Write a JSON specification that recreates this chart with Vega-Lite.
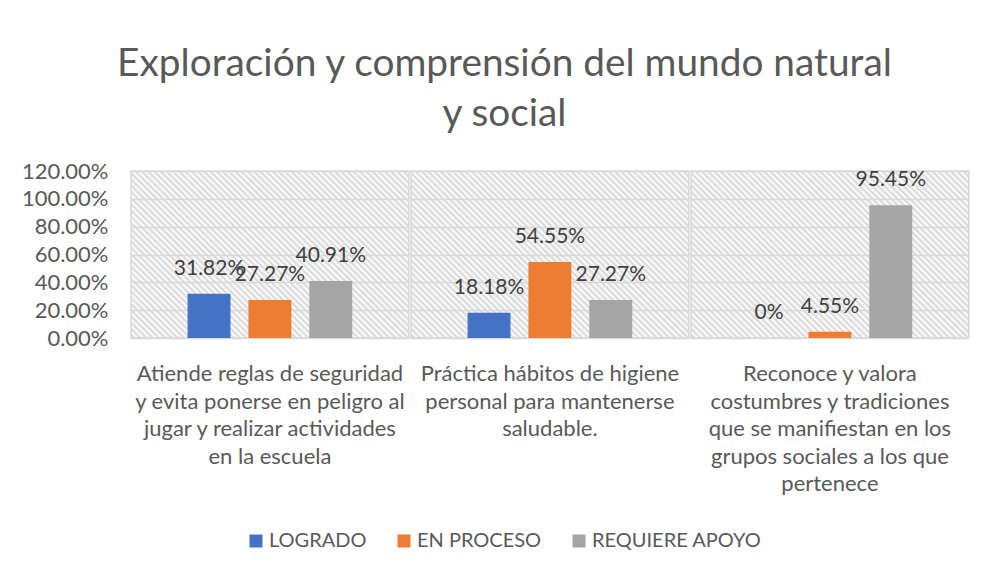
{
  "$schema": "https://vega.github.io/schema/vega-lite/v6.json",
  "padding": {"left": 21, "top": 45, "right": 18, "bottom": 10},
  "background": "white",
  "config": {
    "font": "Lato",
    "view": {
      "stroke": "#d9d9d9",
      "strokeWidth": 1.5,
      "fill": {
        "gradient": "linear",
        "x1": 0, "y1": 1, "x2": 1.1762, "y2": 0.2931,
        "stops": [
          {"offset": 0, "color": "#fff"}, {"offset": 0.007, "color": "#d6d6d6"}, {"offset": 0.014, "color": "#fff"}, {"offset": 0.021, "color": "#d6d6d6"},
          {"offset": 0.028, "color": "#fff"}, {"offset": 0.035, "color": "#d6d6d6"}, {"offset": 0.042, "color": "#fff"}, {"offset": 0.049, "color": "#d6d6d6"},
          {"offset": 0.056, "color": "#fff"}, {"offset": 0.063, "color": "#d6d6d6"}, {"offset": 0.07, "color": "#fff"}, {"offset": 0.077, "color": "#d6d6d6"},
          {"offset": 0.084, "color": "#fff"}, {"offset": 0.091, "color": "#d6d6d6"}, {"offset": 0.098, "color": "#fff"}, {"offset": 0.105, "color": "#d6d6d6"},
          {"offset": 0.112, "color": "#fff"}, {"offset": 0.119, "color": "#d6d6d6"}, {"offset": 0.126, "color": "#fff"}, {"offset": 0.133, "color": "#d6d6d6"},
          {"offset": 0.14, "color": "#fff"}, {"offset": 0.147, "color": "#d6d6d6"}, {"offset": 0.154, "color": "#fff"}, {"offset": 0.161, "color": "#d6d6d6"},
          {"offset": 0.168, "color": "#fff"}, {"offset": 0.175, "color": "#d6d6d6"}, {"offset": 0.182, "color": "#fff"}, {"offset": 0.189, "color": "#d6d6d6"},
          {"offset": 0.196, "color": "#fff"}, {"offset": 0.203, "color": "#d6d6d6"}, {"offset": 0.21, "color": "#fff"}, {"offset": 0.217, "color": "#d6d6d6"},
          {"offset": 0.224, "color": "#fff"}, {"offset": 0.231, "color": "#d6d6d6"}, {"offset": 0.238, "color": "#fff"}, {"offset": 0.245, "color": "#d6d6d6"},
          {"offset": 0.252, "color": "#fff"}, {"offset": 0.259, "color": "#d6d6d6"}, {"offset": 0.266, "color": "#fff"}, {"offset": 0.273, "color": "#d6d6d6"},
          {"offset": 0.28, "color": "#fff"}, {"offset": 0.287, "color": "#d6d6d6"}, {"offset": 0.294, "color": "#fff"}, {"offset": 0.301, "color": "#d6d6d6"},
          {"offset": 0.308, "color": "#fff"}, {"offset": 0.315, "color": "#d6d6d6"}, {"offset": 0.322, "color": "#fff"}, {"offset": 0.329, "color": "#d6d6d6"},
          {"offset": 0.336, "color": "#fff"}, {"offset": 0.343, "color": "#d6d6d6"}, {"offset": 0.35, "color": "#fff"}, {"offset": 0.357, "color": "#d6d6d6"},
          {"offset": 0.364, "color": "#fff"}, {"offset": 0.371, "color": "#d6d6d6"}, {"offset": 0.378, "color": "#fff"}, {"offset": 0.385, "color": "#d6d6d6"},
          {"offset": 0.392, "color": "#fff"}, {"offset": 0.399, "color": "#d6d6d6"}, {"offset": 0.406, "color": "#fff"}, {"offset": 0.413, "color": "#d6d6d6"},
          {"offset": 0.42, "color": "#fff"}, {"offset": 0.427, "color": "#d6d6d6"}, {"offset": 0.434, "color": "#fff"}, {"offset": 0.441, "color": "#d6d6d6"},
          {"offset": 0.448, "color": "#fff"}, {"offset": 0.455, "color": "#d6d6d6"}, {"offset": 0.462, "color": "#fff"}, {"offset": 0.469, "color": "#d6d6d6"},
          {"offset": 0.476, "color": "#fff"}, {"offset": 0.483, "color": "#d6d6d6"}, {"offset": 0.49, "color": "#fff"}, {"offset": 0.497, "color": "#d6d6d6"},
          {"offset": 0.504, "color": "#fff"}, {"offset": 0.511, "color": "#d6d6d6"}, {"offset": 0.518, "color": "#fff"}, {"offset": 0.525, "color": "#d6d6d6"},
          {"offset": 0.532, "color": "#fff"}, {"offset": 0.539, "color": "#d6d6d6"}, {"offset": 0.546, "color": "#fff"}, {"offset": 0.553, "color": "#d6d6d6"},
          {"offset": 0.56, "color": "#fff"}, {"offset": 0.567, "color": "#d6d6d6"}, {"offset": 0.574, "color": "#fff"}, {"offset": 0.581, "color": "#d6d6d6"},
          {"offset": 0.588, "color": "#fff"}, {"offset": 0.595, "color": "#d6d6d6"}, {"offset": 0.602, "color": "#fff"}, {"offset": 0.609, "color": "#d6d6d6"},
          {"offset": 0.616, "color": "#fff"}, {"offset": 0.623, "color": "#d6d6d6"}, {"offset": 0.63, "color": "#fff"}, {"offset": 0.637, "color": "#d6d6d6"},
          {"offset": 0.644, "color": "#fff"}, {"offset": 0.651, "color": "#d6d6d6"}, {"offset": 0.658, "color": "#fff"}, {"offset": 0.665, "color": "#d6d6d6"},
          {"offset": 0.672, "color": "#fff"}, {"offset": 0.679, "color": "#d6d6d6"}, {"offset": 0.686, "color": "#fff"}, {"offset": 0.693, "color": "#d6d6d6"},
          {"offset": 0.7, "color": "#fff"}, {"offset": 0.707, "color": "#d6d6d6"}, {"offset": 0.714, "color": "#fff"}, {"offset": 0.721, "color": "#d6d6d6"},
          {"offset": 0.728, "color": "#fff"}, {"offset": 0.735, "color": "#d6d6d6"}, {"offset": 0.742, "color": "#fff"}, {"offset": 0.749, "color": "#d6d6d6"},
          {"offset": 0.756, "color": "#fff"}, {"offset": 0.763, "color": "#d6d6d6"}, {"offset": 0.77, "color": "#fff"}, {"offset": 0.777, "color": "#d6d6d6"},
          {"offset": 0.784, "color": "#fff"}, {"offset": 0.791, "color": "#d6d6d6"}, {"offset": 0.798, "color": "#fff"}, {"offset": 0.805, "color": "#d6d6d6"},
          {"offset": 0.812, "color": "#fff"}, {"offset": 0.819, "color": "#d6d6d6"}, {"offset": 0.826, "color": "#fff"}, {"offset": 0.833, "color": "#d6d6d6"},
          {"offset": 0.84, "color": "#fff"}, {"offset": 0.847, "color": "#d6d6d6"}, {"offset": 0.854, "color": "#fff"}, {"offset": 0.861, "color": "#d6d6d6"},
          {"offset": 0.868, "color": "#fff"}, {"offset": 0.875, "color": "#d6d6d6"}, {"offset": 0.882, "color": "#fff"}, {"offset": 0.889, "color": "#d6d6d6"},
          {"offset": 0.896, "color": "#fff"}, {"offset": 0.903, "color": "#d6d6d6"}, {"offset": 0.91, "color": "#fff"}, {"offset": 0.917, "color": "#d6d6d6"},
          {"offset": 0.924, "color": "#fff"}, {"offset": 0.931, "color": "#d6d6d6"}, {"offset": 0.938, "color": "#fff"}, {"offset": 0.945, "color": "#d6d6d6"},
          {"offset": 0.952, "color": "#fff"}, {"offset": 0.959, "color": "#d6d6d6"}, {"offset": 0.966, "color": "#fff"}, {"offset": 0.973, "color": "#d6d6d6"},
          {"offset": 0.98, "color": "#fff"}, {"offset": 0.987, "color": "#d6d6d6"}, {"offset": 0.994, "color": "#fff"}, {"offset": 1, "color": "#fff"}
        ]
      }
    }
  },
  "title": {
    "text": ["Exploración y comprensión del mundo natural", "y social"],
    "fontSize": 38.8,
    "font": "Lato",
    "fontWeight": "normal",
    "color": "#595959",
    "lineHeight": 50,
    "anchor": "middle",
    "dx": 9,
    "offset": 26
  },
  "data": {
    "values": [
      {"categoria": "Atiende reglas de seguridad y evita ponerse en peligro al jugar y realizar actividades en la escuela", "nivel": "LOGRADO", "valor": 0.3182},
      {"categoria": "Atiende reglas de seguridad y evita ponerse en peligro al jugar y realizar actividades en la escuela", "nivel": "EN PROCESO", "valor": 0.2727},
      {"categoria": "Atiende reglas de seguridad y evita ponerse en peligro al jugar y realizar actividades en la escuela", "nivel": "REQUIERE APOYO", "valor": 0.4091},
      {"categoria": "Práctica hábitos de higiene personal para mantenerse saludable.", "nivel": "LOGRADO", "valor": 0.1818},
      {"categoria": "Práctica hábitos de higiene personal para mantenerse saludable.", "nivel": "EN PROCESO", "valor": 0.5455},
      {"categoria": "Práctica hábitos de higiene personal para mantenerse saludable.", "nivel": "REQUIERE APOYO", "valor": 0.2727},
      {"categoria": "Reconoce y valora costumbres y tradiciones que se manifiestan en los grupos sociales a los que pertenece", "nivel": "LOGRADO", "valor": 0},
      {"categoria": "Reconoce y valora costumbres y tradiciones que se manifiestan en los grupos sociales a los que pertenece", "nivel": "EN PROCESO", "valor": 0.0455},
      {"categoria": "Reconoce y valora costumbres y tradiciones que se manifiestan en los grupos sociales a los que pertenece", "nivel": "REQUIERE APOYO", "valor": 0.9545}
    ]
  },
  "facet": {
    "column": {
      "field": "categoria",
      "type": "nominal",
      "sort": "ascending",
      "header": {
        "title": null,
        "labelOrient": "bottom",
        "labelFont": "Lato",
        "labelFontSize": 22,
        "labelColor": "#595959",
        "labelPadding": 25,
        "labelLineHeight": 27.5,
        "labelLimit": 0,
        "labelExpr": "indexof(datum.value,'Atiende')==0 ? ['Atiende reglas de seguridad','y evita ponerse en peligro al','jugar y realizar actividades','en la escuela'] : indexof(datum.value,'Práctica')==0 ? ['Práctica hábitos de higiene','personal para mantenerse','saludable.'] : ['Reconoce y valora','costumbres y tradiciones','que se manifiestan en los','grupos sociales a los que','pertenece']"
      }
    }
  },
  "spacing": 0,
  "spec": {
    "width": 277.83,
    "height": 167,
    "encoding": {
      "x": {
        "field": "nivel",
        "type": "nominal",
        "sort": ["LOGRADO", "EN PROCESO", "REQUIERE APOYO"],
        "scale": {"paddingInner": 0.295, "paddingOuter": 0.93},
        "axis": null
      },
      "y": {
        "field": "valor",
        "type": "quantitative",
        "scale": {"domain": [0, 1.2]},
        "axis": {
          "title": null,
          "values": [0, 0.2, 0.4, 0.6, 0.8, 1, 1.2],
          "format": ".2%",
          "ticks": false,
          "domain": false,
          "gridColor": "#d9d9d9",
          "gridWidth": 1.5,
          "labelFontSize": 22,
          "labelColor": "#595959",
          "labelPadding": 22
        }
      }
    },
    "layer": [
      {
        "mark": {"type": "bar"},
        "encoding": {
          "color": {
            "field": "nivel",
            "type": "nominal",
            "scale": {"domain": ["LOGRADO", "EN PROCESO", "REQUIERE APOYO"], "range": ["#4472C4", "#ED7D31", "#A5A5A5"]},
            "legend": {
              "title": null,
              "orient": "none",
              "legendX": 115,
              "legendY": 360,
              "direction": "horizontal",
              "symbolType": "square",
              "symbolSize": 169,
              "symbolStrokeWidth": 0,
              "labelFontSize": 20,
              "labelColor": "#595959",
              "labelOffset": 3,
              "labelLimit": 0,
              "columnPadding": 27
            }
          }
        }
      },
      {
        "mark": {"type": "text", "baseline": "alphabetic", "dy": -19, "fontSize": 21, "color": "#404040"},
        "encoding": {"text": {"field": "valor", "format": ".2~%"}}
      }
    ]
  }
}
